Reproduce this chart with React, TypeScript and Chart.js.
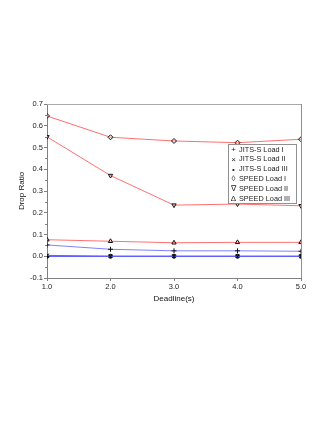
import React, { useEffect, useRef } from "react";
import { Chart, registerables } from "chart.js";

Chart.register(...registerables);

const deadlines = [1, 2, 3, 4, 5];
const jitsLoad1 = [0.052, 0.032, 0.025, 0.025, 0.023];
const jitsLoad2 = [0.004, 0.0, 0.0, 0.0, 0.0];
const jitsLoad3 = [0.0, 0.0, 0.0, 0.0, 0.0];
const speedLoad1 = [0.645, 0.547, 0.53, 0.522, 0.538];
const speedLoad2 = [0.549, 0.371, 0.235, 0.24, 0.232];
const speedLoad3 = [0.076, 0.069, 0.062, 0.064, 0.064];

const legendLabels = [
  "JITS-S Load I",
  "JITS-S Load II",
  "JITS-S Load III",
  "SPEED Load I",
  "SPEED Load II",
  "SPEED Load III",
];
const legendSymbols = ["+", "×", "•", "◊", "∇", "Δ"];

const FONT = "'Liberation Sans', Arial, sans-serif";

const fmt = (v: any) => {
  const n = Number(v);
  return (Math.abs(n) < 1e-9 ? 0 : n).toFixed(1);
};

const framePlugin = {
  id: "frameLegend",
  afterDraw(chart: any) {
    const { ctx, chartArea } = chart;
    const { left, right, top, bottom } = chartArea;
    const yScale = chart.scales.y;
    ctx.save();
    ctx.strokeStyle = "#a8a8a8";
    ctx.lineWidth = 1;
    ctx.beginPath();
    ctx.moveTo(left, top + 0.5);
    ctx.lineTo(right, top + 0.5);
    ctx.stroke();
    ctx.strokeStyle = "#909090";
    ctx.beginPath();
    ctx.moveTo(right + 0.5, top);
    ctx.lineTo(right + 0.5, bottom);
    ctx.stroke();
    ctx.strokeStyle = "#808080";
    for (let v = -0.05; v < 0.7; v += 0.1) {
      const py = Math.round(yScale.getPixelForValue(v)) + 0.5;
      ctx.beginPath();
      ctx.moveTo(left - 2, py);
      ctx.lineTo(left, py);
      ctx.stroke();
    }
    const bx = 228, by = 144, bw = 68, bh = 59;
    ctx.fillStyle = "#ffffff";
    ctx.fillRect(bx, by, bw, bh);
    ctx.strokeStyle = "#909090";
    ctx.strokeRect(bx + 0.5, by + 0.5, bw, bh);
    ctx.textBaseline = "middle";
    legendLabels.forEach((lab, i) => {
      const cy = 149.5 + i * 9.9;
      ctx.fillStyle = "#222";
      ctx.textAlign = "center";
      ctx.font = `8px ${FONT}`;
      ctx.fillText(legendSymbols[i], 233.5, cy);
      ctx.textAlign = "left";
      ctx.font = `7.3px ${FONT}`;
      ctx.fillText(lab, 239, cy);
    });
    ctx.restore();
  },
};

function makeDataset(label: string, data: number[], color: string, style: any, extra: any = {}) {
  return {
    label,
    data: data.map((v, i) => ({ x: deadlines[i], y: v })),
    borderColor: color,
    borderWidth: 1,
    pointStyle: style,
    pointRadius: 2.5,
    pointBorderColor: "#111",
    pointBackgroundColor: "rgba(255,255,255,0)",
    pointBorderWidth: 1,
    tension: 0,
    ...extra,
  };
}

export default function App() {
  const ref = useRef<HTMLCanvasElement>(null);
  useEffect(() => {
    const canvas = ref.current!;
    const chart = new Chart(canvas, {
      type: "line",
      data: {
        datasets: [
          makeDataset("SPEED Load I", speedLoad1, "#ff7070", "rectRot", { pointRadius: 2.5 }),
          makeDataset("SPEED Load II", speedLoad2, "#ff7070", "triangle", { pointRotation: 180 }),
          makeDataset("SPEED Load III", speedLoad3, "#ff7070", "triangle"),
          makeDataset("JITS-S Load I", jitsLoad1, "#8080ff", "cross"),
          makeDataset("JITS-S Load II", jitsLoad2, "#6060ff", "crossRot"),
          makeDataset("JITS-S Load III", jitsLoad3, "#3030ff", "circle", {
            pointBackgroundColor: "#111",
            pointRadius: 2,
          }),
        ],
      } as any,
      options: {
        responsive: false,
        animation: false,
        layout: { padding: { left: 17, top: 104, right: 32, bottom: 127 } },
        plugins: {
          legend: { display: false },
          tooltip: { enabled: false },
        },
        scales: {
          x: {
            type: "linear",
            min: 1,
            max: 5,
            afterFit: (s: any) => {
              s.height = 26;
            },
            ticks: {
              stepSize: 1,
              padding: 1,
              color: "#222",
              font: { family: FONT, size: 7.5 },
              maxRotation: 0,
              callback: fmt,
            },
            grid: {
              drawOnChartArea: false,
              drawTicks: true,
              tickLength: 3,
              color: "#808080",
            },
            border: { display: true, color: "#808080" },
            title: {
              display: true,
              text: "Deadline(s)",
              color: "#111",
              font: { family: FONT, size: 8 },
              padding: 0,
            },
          },
          y: {
            type: "linear",
            min: -0.1,
            max: 0.7,
            afterFit: (s: any) => {
              s.width = 30;
            },
            ticks: {
              stepSize: 0.1,
              padding: 1,
              color: "#222",
              font: { family: FONT, size: 7.5 },
              callback: fmt,
            },
            grid: {
              drawOnChartArea: false,
              drawTicks: true,
              tickLength: 3,
              color: "#808080",
            },
            border: { display: true, color: "#808080" },
            title: {
              display: true,
              text: "Drop Ratio",
              color: "#111",
              font: { family: FONT, size: 8 },
              padding: 0,
            },
          },
        },
      } as any,
      plugins: [framePlugin],
    });
    return () => chart.destroy();
  }, []);
  return (
    <div style={{ position: "fixed", left: 0, top: 0, width: 333, height: 431, background: "#fff" }}>
      <canvas ref={ref} width={333} height={431} style={{ width: 333, height: 431, display: "block" }} />
    </div>
  );
}
